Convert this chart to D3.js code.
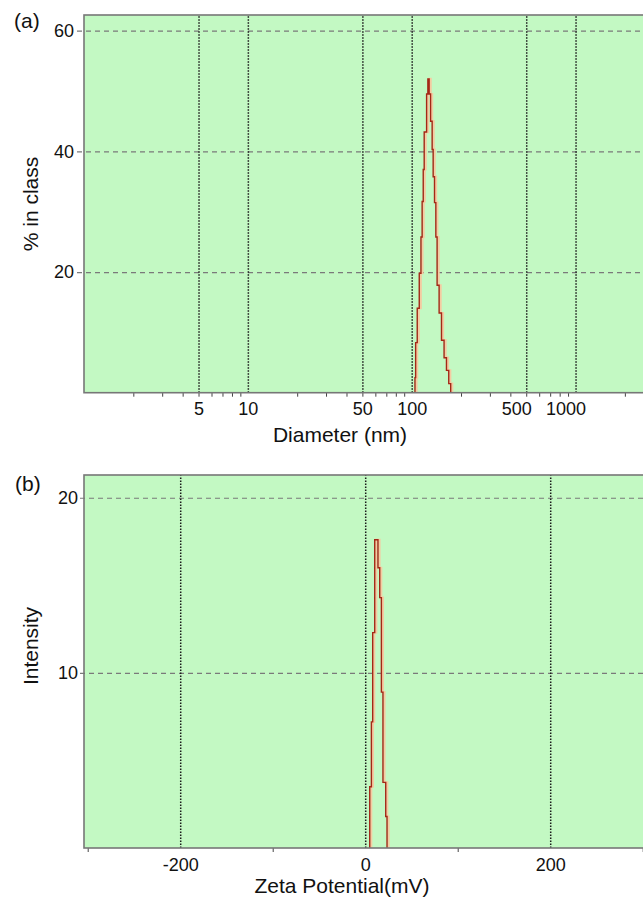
<!DOCTYPE html>
<html lang="en">
<head>
  <meta charset="UTF-8">
  <title>Size and zeta potential</title>
  <style>
    body { margin: 0; background: #ffffff; }
    svg text { font-family: "Liberation Sans", Arial, sans-serif; fill: #111111; }
    .tick text { font-size: 18px; }
    .ygrid line { stroke: #7a7a7a; stroke-width: 1.2; stroke-dasharray: 5,4; }
    .xgrid line { stroke: #1a1a1a; stroke-width: 1.5; stroke-dasharray: 1.5,1.5; }
    .minor line { stroke: #444444; stroke-width: 1; }
    .ygrid path, .xgrid path, .minor path { display: none; }
    .title { font-size: 21px; }
  </style>
</head>
<body>
<svg id="chart" width="643" height="900"></svg>

<script src="https://cdn.jsdelivr.net/npm/d3@7"></script>
<script>
  "use strict";

  // (a) size distribution
  var sizeDiam = [104.7, 104.7, 105.7, 108.1, 111.2, 113.9, 115.8, 117.6, 119.2, 123.3, 125.5,
                  127.8, 130.4, 133.3, 135.2, 137.8, 140.4, 142.9, 147.0, 152.0, 157.6, 163.0, 168.3, 173.0];
  var sizePct  = [0, 2.5, 8.3, 14.0, 19.8, 25.8, 31.7, 37.0, 43.2, 49.5, 52.0,
                  49.5, 45.0, 40.3, 35.8, 31.5, 25.8, 17.8, 13.2, 8.7, 5.8, 3.7, 1.5, 0];
  var sizeTicks = [5, 10, 50, 100, 500, 1000];
  var pctTicks = [20, 40, 60];

  // (b) zeta potential
  var zetaMv  = [4.9, 4.9, 6.7, 8.1, 10.3, 13.8, 15.7, 17.5, 19.2, 22.2, 23.6];
  var zetaInt = [0, 3.5, 7.2, 12.3, 17.6, 16.0, 14.3, 8.9, 3.75, 1.8, 0];
  var zetaTicks = [-200, 0, 200];
  var zetaMinor = [-300, -100, 100, 300];
  var intTicks = [10, 20];

  var svg = d3.select("#chart");
  var bg = "#c3f9c3";
  var plain = function(d){ return String(d); };

  function curve(g, x, y, xs, ys) {
    var pts = xs.map(function(d, i){ return [d, ys[i]]; });
    var line = d3.line()
      .x(function(d){ return x(d[0]); })
      .y(function(d){ return y(d[1]); })
      .curve(d3.curveStepAfter);
    g.append("path").datum(pts)
      .attr("d", line)
      .attr("transform", "translate(1.5,0)")
      .attr("fill", "none")
      .attr("stroke", "#f4cba2")
      .attr("stroke-width", 2.2);
    g.append("path").datum(pts)
      .attr("d", line)
      .attr("fill", "none")
      .attr("stroke", "#a32816")
      .attr("stroke-width", 1.4);
  }

  // ---------- panel (a) ----------
  var xa = d3.scaleLog().domain([1, 10000]).range([84, 739.4]);
  var ya = d3.scaleLinear().domain([0, 62.6]).range([392.7, 15]);

  var ga = svg.append("g");
  ga.append("rect")
    .attr("x", xa.range()[0]).attr("y", ya.range()[1])
    .attr("width", xa.range()[1] - xa.range()[0])
    .attr("height", ya.range()[0] - ya.range()[1])
    .attr("fill", bg);

  ga.append("g").attr("class", "ygrid")
    .attr("transform", "translate(77,0)")
    .call(d3.axisLeft(ya).tickValues(pctTicks).tickSize(-(xa.range()[1] - 77)).tickPadding(3));

  var minorA = [];
  [1, 10, 100, 1000].forEach(function(p){
    for (var k = 2; k <= 9; k++) minorA.push(p * k);
  });
  ga.append("g").attr("class", "minor")
    .attr("transform", "translate(0," + ya.range()[0] + ")")
    .call(d3.axisBottom(xa).tickValues(minorA).tickSize(4).tickFormat(""));

  ga.append("g").attr("class", "xgrid")
    .attr("transform", "translate(0," + ya.range()[0] + ")")
    .call(d3.axisBottom(xa).tickValues(sizeTicks).tickFormat(plain)
      .tickSize(-(ya.range()[0] - ya.range()[1])).tickPadding(10))
    .selectAll("text")
    .attr("dx", function(d){ return d >= 500 ? -10 : 0; });

  curve(ga, xa, ya, sizeDiam, sizePct);

  ga.append("rect")
    .attr("x", xa.range()[0]).attr("y", ya.range()[1])
    .attr("width", xa.range()[1] - xa.range()[0])
    .attr("height", ya.range()[0] - ya.range()[1])
    .attr("fill", "none").attr("stroke", "#777777").attr("stroke-width", 1.6);

  ga.append("text").attr("class", "title").attr("x", 14).attr("y", 28).text("(a)");
  ga.append("text").attr("class", "title")
    .attr("x", 340).attr("y", 442).attr("text-anchor", "middle").text("Diameter (nm)");
  ga.append("text").attr("class", "title")
    .attr("transform", "translate(38,204) rotate(-90)")
    .attr("text-anchor", "middle").text("% in class");

  // ---------- panel (b) ----------
  var xb = d3.scaleLinear().domain([-304, 304]).range([84, 646.4]);
  var yb = d3.scaleLinear().domain([0, 21.3]).range([848, 475]);

  var gb = svg.append("g");
  gb.append("rect")
    .attr("x", xb.range()[0]).attr("y", yb.range()[1])
    .attr("width", xb.range()[1] - xb.range()[0])
    .attr("height", yb.range()[0] - yb.range()[1])
    .attr("fill", bg);

  gb.append("g").attr("class", "ygrid")
    .attr("transform", "translate(80,0)")
    .call(d3.axisLeft(yb).tickValues(intTicks).tickSize(-(xb.range()[1] - 80)).tickPadding(2));

  gb.append("g").attr("class", "minor")
    .attr("transform", "translate(0," + yb.range()[0] + ")")
    .call(d3.axisBottom(xb).tickValues(zetaMinor).tickSize(4).tickFormat(""));

  gb.append("g").attr("class", "xgrid")
    .attr("transform", "translate(0," + yb.range()[0] + ")")
    .call(d3.axisBottom(xb).tickValues(zetaTicks).tickFormat(plain)
      .tickSize(-(yb.range()[0] - yb.range()[1])).tickPadding(10));

  curve(gb, xb, yb, zetaMv, zetaInt);

  gb.append("rect")
    .attr("x", xb.range()[0]).attr("y", yb.range()[1])
    .attr("width", xb.range()[1] - xb.range()[0])
    .attr("height", yb.range()[0] - yb.range()[1])
    .attr("fill", "none").attr("stroke", "#777777").attr("stroke-width", 1.6);

  gb.append("text").attr("class", "title").attr("x", 15).attr("y", 491).text("(b)");
  gb.append("text").attr("class", "title")
    .attr("x", 342).attr("y", 893).attr("text-anchor", "middle").text("Zeta Potential(mV)");
  gb.append("text").attr("class", "title")
    .attr("transform", "translate(38,646) rotate(-90)")
    .attr("text-anchor", "middle").text("Intensity");
</script>
</body>
</html>
